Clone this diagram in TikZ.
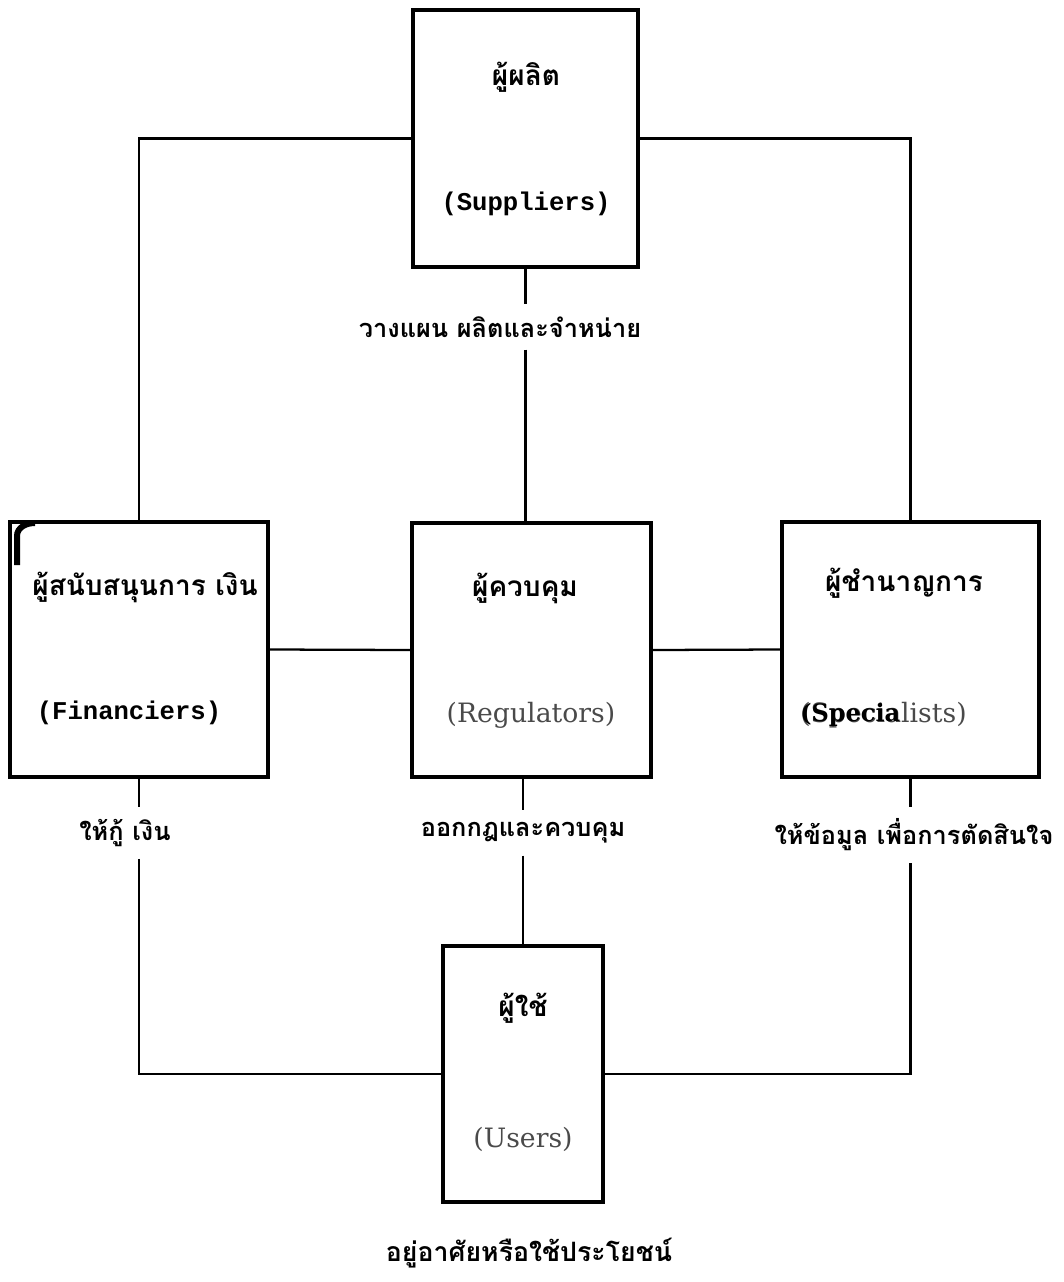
\documentclass[tikz,border=0pt]{standalone}
\usepackage{fontspec}
\newfontfamily\thaifont[Script=Thai]{Loma}
\newfontfamily\monofont{Liberation Mono}
\newfontfamily\engserif{DejaVu Serif}
\definecolor{txtgray}{HTML}{4A4A4A}
\tikzset{
  box/.style={draw, line width=2.4pt, inner sep=0pt},
  conn/.style={line width=1.7pt},
  thlabel/.style={font=\thaifont\bfseries\fontsize{19}{22}\selectfont, inner xsep=0pt, inner ysep=9pt},
  thname/.style={font=\thaifont\bfseries\fontsize{21}{24}\selectfont, inner sep=0pt},
  mononame/.style={font=\monofont\bfseries\fontsize{19.2}{22}\selectfont, inner sep=0pt},
  sername/.style={font=\engserif\fontsize{20}{24}\selectfont, text=txtgray, inner sep=0pt},
}
\begin{document}
\begin{tikzpicture}[x=0.75pt, y=-0.75pt]
\useasboundingbox (0,0) rectangle (1064,1282);
% boxes
\node[box, minimum width=225*0.75pt, minimum height=257*0.75pt] (sup) at (525.5,138.5) {};
\node[box, minimum width=258*0.75pt, minimum height=255*0.75pt] (fin) at (139,649.5) {};
\node[box, minimum width=239*0.75pt, minimum height=254*0.75pt] (reg) at (531.5,650) {};
\node[box, minimum width=257*0.75pt, minimum height=255*0.75pt] (spec) at (910.5,649.5) {};
\node[box, minimum width=160*0.75pt, minimum height=256*0.75pt] (users) at (523,1074) {};
% box texts
\node[thname] (supth) at (526,77) {ผู้ผลิต};
\node[mononame] (supen) at (526,204) {(Suppliers)};
\node[thname] (finth) at (145,587) {ผู้สนับสนุนการ เงิน};
\node[mononame] (finen) at (129,713) {(Financiers)};
\node[thname] (regth) at (525,588) {ผู้ควบคุม};
\node[sername] (regen) at (531,715) {(Regulators)};
\node[thname] (specth) at (904,583) {ผู้ชำนาญการ};
\node[sername, anchor=west] (specen) at (800,715) {(Specialists)};
\node[font=\engserif\bfseries\fontsize{18}{22}\selectfont, inner sep=0pt, anchor=west] (specen2) at (800,715) {(Specia};
\node[thname] (usersth) at (523,1008) {ผู้ใช้};
\node[sername] (usersen) at (523,1139) {(Users)};
% labels
\node[thlabel] (lplan) at (500,327) {วางแผน ผลิตและจำหน่าย};
\node[thlabel] (lloan) at (125,833) {ให้กู้ เงิน};
\node[thlabel] (lrule) at (523,833) {ออกกฎและควบคุม};
\node[thlabel] (linfo) at (914,835) {ให้ข้อมูล เพื่อการตัดสินใจ};
\node[thlabel, font=\thaifont\bfseries\fontsize{20}{23}\selectfont] (lbottom) at (529,1253) {อยู่อาศัยหรือใช้ประโยชน์};
% r mark
\draw[line width=4.5pt] (17,565) -- (17,536) to[out=90,in=180] (35,523);
% connectors
\draw[conn] (sup.south) -- (sup.south |- lplan.north);
\draw[conn] (lplan.south -| sup.south) -- (reg.north -| sup.south);
\draw[conn] (sup.west) -- (sup.west -| fin.north) -- (fin.north);
\draw[conn] (sup.east) -- (sup.east -| spec.north) -- (spec.north);
\draw[conn] (fin.east) -- (reg.west);
\draw[conn] (reg.east) -- (spec.west);
\draw[conn] (fin.south) -- (fin.south |- lloan.north);
\draw[conn] (lloan.south -| fin.south) -- (fin.south |- users.west) -- (users.west);
\draw[conn] (users.north |- reg.south) -- (users.north |- lrule.north);
\draw[conn] (lrule.south -| users.north) -- (users.north);
\draw[conn] (spec.south) -- (spec.south |- linfo.north);
\draw[conn] (linfo.south -| spec.south) -- (spec.south |- users.east) -- (users.east);
\end{tikzpicture}
\end{document}
